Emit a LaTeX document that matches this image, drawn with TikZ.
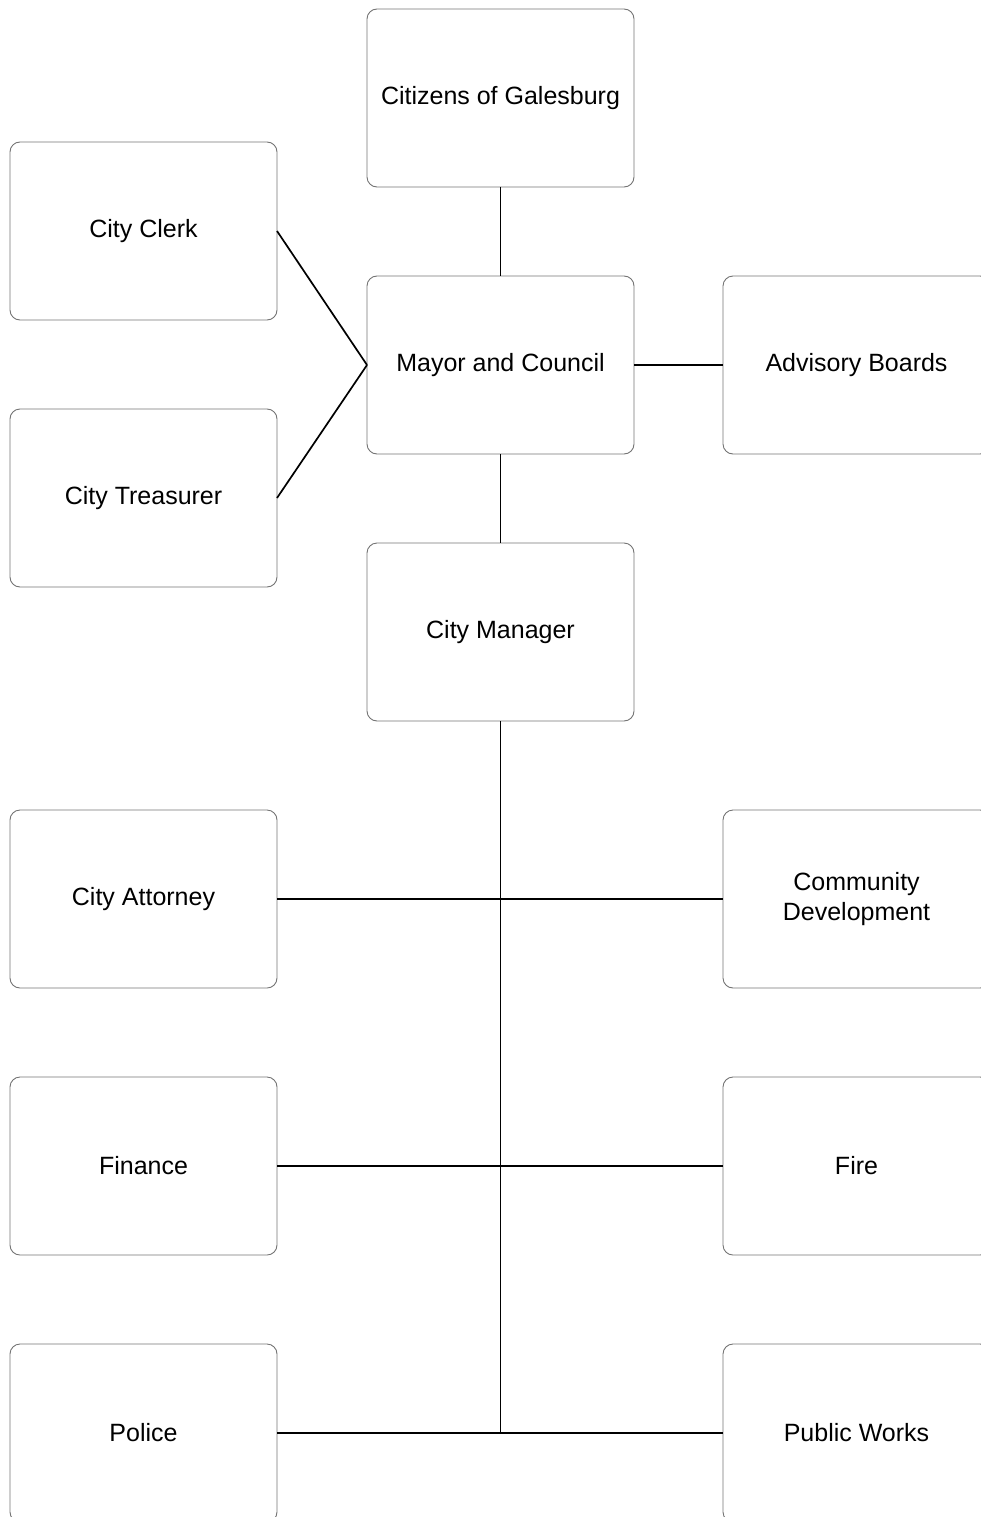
\documentclass[tikz,border=0pt]{standalone}
\usepackage{fontspec}
\setmainfont{Liberation Sans}
\begin{document}
\begin{tikzpicture}[x=1pt,y=-1pt,
  box/.style={draw=black!55,line width=0.9pt,rounded corners=10pt,minimum width=267pt,minimum height=178pt,inner sep=0pt,outer sep=0pt,align=center,font=\fontsize{25}{30}\selectfont},
  link/.style={draw=black,line width=1.7pt}]
\useasboundingbox (0,0) rectangle (981,1517);
\clip (0,0) rectangle (981,1517);
\node[box] (cit) at (500.5,98) {Citizens of Galesburg};
\node[box] (clerk) at (143.5,231) {City Clerk};
\node[box] (mayor) at (500.5,365) {Mayor and Council};
\node[box] (adv) at (856.5,365) {Advisory Boards};
\node[box] (treas) at (143.5,498) {City Treasurer};
\node[box] (mgr) at (500.5,632) {City Manager};
\node[box] (att) at (143.5,899) {City Attorney};
\node[box] (comm) at (856.5,899) {Community\\Development};
\node[box] (fin) at (143.5,1166) {Finance};
\node[box] (fire) at (856.5,1166) {Fire};
\node[box] (pol) at (143.5,1433) {Police};
\node[box] (pw) at (856.5,1433) {Public Works};
\coordinate (trunk) at (500.5,1433);
\draw[link] (cit.south) -- (mayor.north);
\draw[link] (clerk.east) -- (mayor.west);
\draw[link] (treas.east) -- (mayor.west);
\draw[link] (mayor.east) -- (adv.west);
\draw[link] (mayor.south) -- (mgr.north);
\draw[link] (mgr.south) -- (trunk);
\draw[link] (att.east) -- (comm.west);
\draw[link] (fin.east) -- (fire.west);
\draw[link] (pol.east) -- (pw.west);
\end{tikzpicture}
\end{document}
